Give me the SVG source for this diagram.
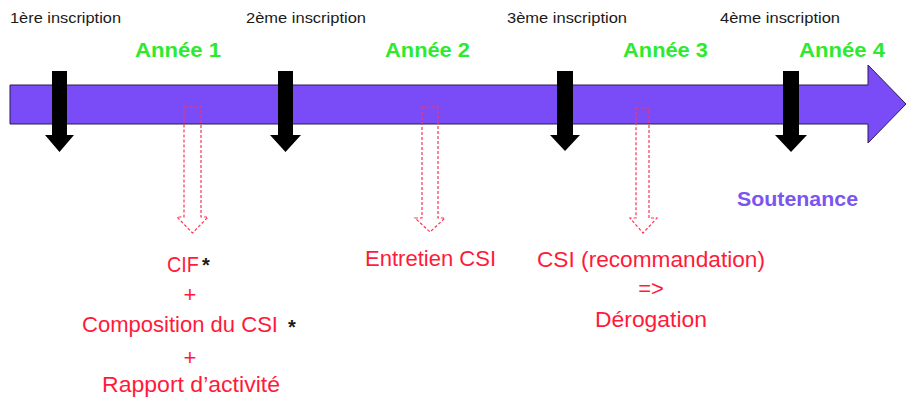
<svg xmlns="http://www.w3.org/2000/svg" width="907" height="398" viewBox="0 0 907 398">
<style>
.insc{font-family:"Liberation Sans",Arial,sans-serif;font-size:15px;fill:#1a1a1a}
.year{font-family:"Liberation Sans",Arial,sans-serif;font-size:20.5px;font-weight:bold;fill:#2EEA2E}
.red{font-family:"Liberation Sans",Arial,sans-serif;font-size:22px;fill:#FF1A3A}
.mid{text-anchor:middle}
.star{font-family:"Liberation Sans",Arial,sans-serif;font-size:20px;font-weight:bold;fill:#1a1a1a}
.blk{fill:#000}
.dash{fill:none;stroke:#FF3355;stroke-width:1.2;stroke-dasharray:3 2}
.soutenance{font-family:"Liberation Sans",Arial,sans-serif;font-size:20px;font-weight:bold;fill:#7B55F0}
</style>
<rect width="907" height="398" fill="#ffffff"/>
<g id="timeline">
<path d="M10,85 H868 V65 L906,104 L868,143 V124 H10 Z" fill="#7A4CF7" stroke="#2a1a50" stroke-width="1"/>
</g>
<g id="labels-inscription">
<text class="insc" x="10" y="23" textLength="111" lengthAdjust="spacingAndGlyphs">1ère inscription</text>
<text class="insc" x="246" y="23" textLength="120" lengthAdjust="spacingAndGlyphs">2ème inscription</text>
<text class="insc" x="507" y="23" textLength="120" lengthAdjust="spacingAndGlyphs">3ème inscription</text>
<text class="insc" x="720" y="23" textLength="120" lengthAdjust="spacingAndGlyphs">4ème inscription</text>
</g>
<g id="labels-annee">
<text class="year" x="135" y="57" textLength="86" lengthAdjust="spacingAndGlyphs">Année 1</text>
<text class="year" x="385" y="57" textLength="85" lengthAdjust="spacingAndGlyphs">Année 2</text>
<text class="year" x="623" y="57" textLength="85" lengthAdjust="spacingAndGlyphs">Année 3</text>
<text class="year" x="799" y="57" textLength="86" lengthAdjust="spacingAndGlyphs">Année 4</text>
</g>
<g id="connectors">
<path class="blk" d="M52,71 H67 V135 H74 L59.5,152 L45,135 H52 Z"/>
<path class="blk" d="M278,71 H293 V135 H301 L285.5,152 L270,135 H278 Z"/>
<path class="blk" d="M557,71 H573 V135 H580 L565,151 L550,135 H557 Z"/>
<path class="blk" d="M783,71 H799 V135 H807 L791,152 L775,135 H783 Z"/>
<path class="dash" d="M184,107 H201 V217 H208 L192.5,233 L177,217 H184 Z"/>
<path class="dash" d="M422,107 H438 V218 H445 L430,232 L415,218 H422 Z"/>
<path class="dash" d="M636,108 H649 V218 H657 L643,233 L630,218 H636 Z"/>
</g>
<g id="node-annee1">
<text class="red" x="167" y="272" textLength="32" lengthAdjust="spacingAndGlyphs">CIF</text>
<text class="star" x="202" y="272">*</text>
<text class="red mid" x="190" y="302">+</text>
<text class="red" x="82" y="332" textLength="196" lengthAdjust="spacingAndGlyphs">Composition du CSI</text>
<text class="star" x="288" y="334">*</text>
<text class="red mid" x="190" y="365">+</text>
<text class="red" x="102" y="392" textLength="178" lengthAdjust="spacingAndGlyphs">Rapport d’activité</text>
</g>
<g id="node-annee2">
<text class="red" x="365" y="266" textLength="131" lengthAdjust="spacingAndGlyphs">Entretien CSI</text>
</g>
<g id="node-annee3">
<text class="red" x="537" y="267" textLength="228" lengthAdjust="spacingAndGlyphs">CSI (recommandation)</text>
<text class="red mid" x="651" y="296">=&gt;</text>
<text class="red" x="595" y="327" textLength="112" lengthAdjust="spacingAndGlyphs">Dérogation</text>
</g>
<g id="node-soutenance">
<text class="soutenance" x="737" y="206" textLength="121" lengthAdjust="spacingAndGlyphs">Soutenance</text>
</g>
</svg>
